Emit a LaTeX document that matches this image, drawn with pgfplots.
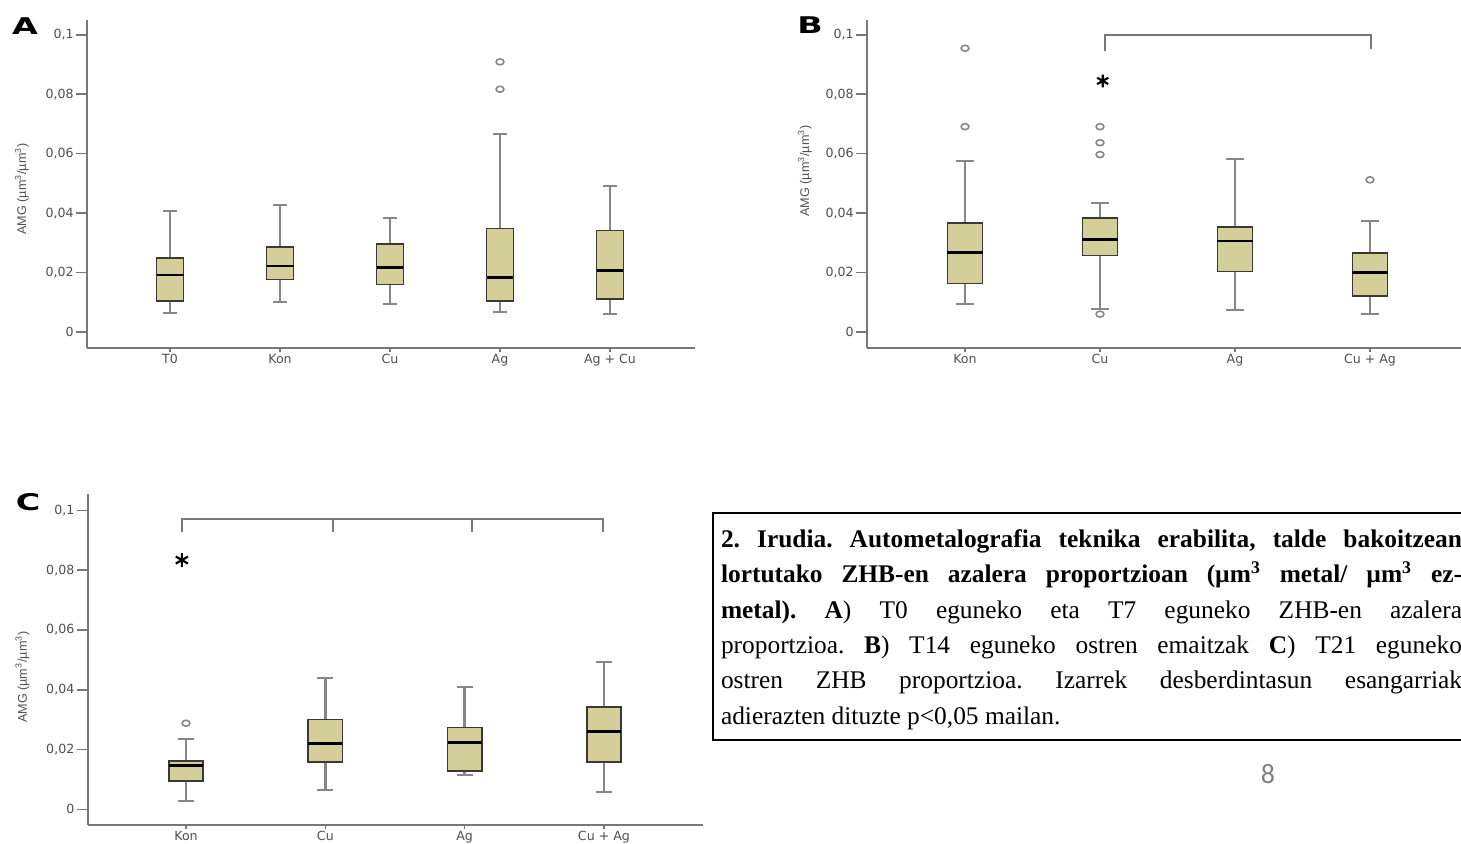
\documentclass[border=0pt]{standalone}
\usepackage{fontspec}
\setmainfont{Liberation Serif}
\newfontfamily\axfont{DejaVu Sans}
\newfontfamily\lblfont{Liberation Sans}
\newfontfamily\pnfont{Carlito}
\usepackage{pgfplots}
\pgfplotsset{compat=1.18}
\definecolor{boxfill}{RGB}{212,207,154}
\definecolor{boxedge}{RGB}{58,58,50}
\definecolor{whisk}{RGB}{135,135,135}
\definecolor{axgray}{RGB}{120,120,120}
\definecolor{tickgray}{RGB}{80,80,80}
\pgfplotsset{
 panel/.style={scale only axis, axis x line*=bottom, axis y line*=left,
   axis line style={draw=axgray, line width=1.1pt, -},
   tick align=outside, major tick length=5.5pt,
   tick style={draw=axgray, line width=0.8pt},
   xtick style={/pgfplots/major tick length=2pt},
   ytick={0,0.02,0.04,0.06,0.08,0.1},
   yticklabels={0,{0,02},{0,04},{0,06},{0,08},{0,1}},
   ticklabel style={font=\axfont\fontsize{6.3}{7}\selectfont, text=tickgray, inner sep=1pt},
   xticklabel style={yshift=3.5pt},
   ylabel={AMG (µm\textsuperscript{3}/µm\textsuperscript{3})},
   ylabel style={font=\lblfont\fontsize{6.3}{7}\selectfont, text=tickgray, anchor=center},
   clip=false,
 },
 whiskst/.style={draw=whisk, line width=1.3pt, mark=none},
 capst/.style={draw=whisk, line width=1.1pt, mark=none},
 boxst/.style={draw=boxedge, fill=boxfill, line width=0.85pt, mark=none, line join=miter},
 medst/.style={draw=black, line width=1.4pt, mark=none},
 outl/.style={only marks, mark=o, mark size=1.5pt, draw=whisk, mark options={line width=0.8pt, xscale=1.3}},
 brk/.style={draw=axgray, line width=1pt, mark=none},
 star/.style={only marks, mark=asterisk, mark size=#1, mark options={line width=1.1pt, draw=black}},
}
% #1 position, #2 half box width, #3 half cap width,
% #4 lower whisker, #5 lower quartile, #6 median, #7 upper quartile, #8 upper whisker
\newcommand{\bp}[8]{%
 \pgfmathsetmacro\bxl{#1-#2}\pgfmathsetmacro\bxr{#1+#2}%
 \pgfmathsetmacro\cxl{#1-#3}\pgfmathsetmacro\cxr{#1+#3}%
 \addplot[whiskst] coordinates {(#1,#4) (#1,#5)};
 \addplot[whiskst] coordinates {(#1,#7) (#1,#8)};
 \addplot[capst] coordinates {(\cxl,#4) (\cxr,#4)};
 \addplot[capst] coordinates {(\cxl,#8) (\cxr,#8)};
 \addplot[boxst] coordinates {(\bxl,#5) (\bxr,#5) (\bxr,#7) (\bxl,#7)} -- cycle;
 \addplot[medst] coordinates {(\bxl,#6) (\bxr,#6)};
}
\begin{document}
\frenchspacing
\begin{tikzpicture}
\useasboundingbox (0,0) rectangle (730.5pt,421.5pt);
% ---------------- Panel A
\begin{axis}[panel, at={(43.5pt,247.5pt)}, anchor=south west, width=304pt, height=164pt,
  xmin=0.245, xmax=5.773, ymin=-0.0054, ymax=0.105,
  xtick={1,2,3,4,5}, xticklabels={T0,Kon,Cu,Ag,Ag + Cu},
  ylabel style={at={(axis description cs:-0.107,0.485)}}]
\bp{1}{0.1225}{0.06}{0.0065}{0.0104}{0.0192}{0.025}{0.0407}
\bp{2}{0.1225}{0.06}{0.0102}{0.0177}{0.0222}{0.0287}{0.0427}
\bp{3}{0.1225}{0.06}{0.0095}{0.016}{0.0217}{0.0295}{0.0383}
\bp{4}{0.1225}{0.06}{0.0067}{0.0105}{0.0183}{0.0348}{0.0667}
\bp{5}{0.1225}{0.06}{0.006}{0.011}{0.0206}{0.0341}{0.049}
\addplot[outl] coordinates {(4,0.0909) (4,0.0817)};
\end{axis}
\node[font=\axfont\bfseries\fontsize{11.5}{13}\selectfont, xscale=1.45] at (12.5pt,408.5pt) {A};
% ---------------- Panel B
\begin{axis}[panel, at={(433.5pt,247.5pt)}, anchor=south west, width=299pt, height=164pt,
  xmin=0.274, xmax=4.704, ymin=-0.0054, ymax=0.105,
  xtick={1,2,3,4}, xticklabels={Kon,Cu,Ag,Cu + Ag},
  ylabel style={at={(axis description cs:-0.104,0.54)}}]
\bp{1}{0.13}{0.064}{0.0093}{0.0163}{0.0268}{0.0366}{0.0576}
\bp{2}{0.13}{0.064}{0.0076}{0.0257}{0.031}{0.0383}{0.0433}
\bp{3}{0.13}{0.064}{0.0074}{0.0203}{0.0306}{0.0354}{0.0581}
\bp{4}{0.13}{0.064}{0.0061}{0.012}{0.02}{0.0265}{0.0373}
\addplot[outl] coordinates {(1,0.0955) (1,0.0691) (2,0.0691) (2,0.0637) (2,0.0597) (2,0.006) (4,0.0512)};
\addplot[brk] coordinates {(2.04,0.0944) (2.04,0.1) (4.01,0.1) (4.01,0.0953)};
\addplot[star=3.2pt] coordinates {(2.02,0.0845)};
\end{axis}
\node[font=\axfont\bfseries\fontsize{11.5}{13}\selectfont, xscale=1.45] at (405pt,409pt) {B};
% ---------------- Panel C
\begin{axis}[panel, at={(43.85pt,9pt)}, anchor=south west, width=307.65pt, height=165.5pt,
  xmin=0.294, xmax=4.711, ymin=-0.00525, ymax=0.1055,
  xtick={1,2,3,4}, xticklabels={Kon,Cu,Ag,Cu + Ag},
  ylabel style={at={(axis description cs:-0.106,0.447)}}]
\bp{1}{0.1225}{0.0575}{0.0028}{0.0095}{0.0146}{0.0162}{0.0234}
\bp{2}{0.1225}{0.0575}{0.0065}{0.0159}{0.0221}{0.0301}{0.044}
\bp{3}{0.1225}{0.0575}{0.0114}{0.0129}{0.0223}{0.0274}{0.041}
\bp{4}{0.1225}{0.0575}{0.0057}{0.0159}{0.0261}{0.0343}{0.0493}
\addplot[outl] coordinates {(1,0.0288)};
\addplot[brk] coordinates {(0.97,0.0928) (0.97,0.0973) (3.99,0.0973) (3.99,0.0928)};
\addplot[brk] coordinates {(2.055,0.0973) (2.055,0.0928)};
\addplot[brk] coordinates {(3.053,0.0973) (3.053,0.0928)};
\addplot[star=3.5pt] coordinates {(0.97,0.0834)};
\end{axis}
\node[font=\axfont\bfseries\fontsize{11.5}{13}\selectfont, xscale=1.45] at (14pt,170.5pt) {C};
% ---------------- Caption
\draw[line width=1pt] (356.5pt,165pt) rectangle (740pt,51.5pt);
\node[anchor=north west, inner sep=0pt, text width=370.5pt, align=justify,
      font=\fontsize{12.7}{17.7}\selectfont] at (360.3pt,157pt) {%
\textbf{2. Irudia. Autometalografia teknika erabilita, talde bakoitzean}\linebreak
\textbf{lortutako ZHB-en azalera proportzioan (µm\textsuperscript{3} metal/ µm\textsuperscript{3} ez-}\linebreak
\textbf{metal). A}) T0 eguneko eta T7 eguneko ZHB-en azalera\linebreak
proportzioa. \textbf{B}) T14 eguneko ostren emaitzak \textbf{C}) T21 eguneko\linebreak
ostren ZHB proportzioa. Izarrek desberdintasun esangarriak\linebreak
adierazten dituzte p<0,05 mailan.};
\node[font=\pnfont\fontsize{14}{16}\selectfont, text=gray] at (634pt,34.5pt) {8};
\end{tikzpicture}
\end{document}
